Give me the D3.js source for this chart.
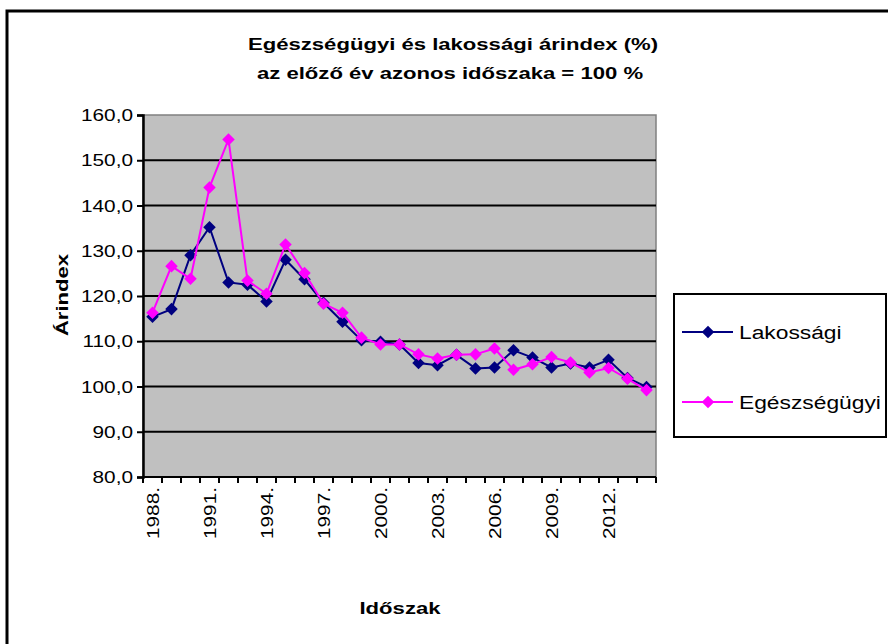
<!DOCTYPE html>
<html>
<head>
<meta charset="utf-8">
<script src="https://cdn.jsdelivr.net/npm/d3@7"></script>
<style>
  body { margin: 0; background: #fff; }
  text { font-family: "Liberation Sans", Arial, sans-serif; }
</style>
</head>
<body>
<div id="chart"></div>
<script>
var years = ["1988", "1989", "1990", "1991", "1992", "1993", "1994", "1995", "1996",
             "1997", "1998", "1999", "2000", "2001", "2002", "2003", "2004", "2005",
             "2006", "2007", "2008", "2009", "2010", "2011", "2012", "2013", "2014"];
var yearLabels = ["1988", "1991", "1994", "1997", "2000", "2003", "2006", "2009", "2012"];

var lakossagi = [115.4, 117.1, 129.0, 135.2, 123.0, 122.5, 118.8, 128.0, 123.7,
                 118.5, 114.3, 110.2, 109.9, 109.3, 105.2, 104.7, 107.0, 104.0,
                 104.2, 108.0, 106.4, 104.2, 105.1, 104.2, 105.9, 101.9, 99.9];
var egeszsegugyi = [116.3, 126.6, 123.8, 144.0, 154.6, 123.4, 120.5, 131.4, 125.1,
                    118.3, 116.3, 110.8, 109.3, 109.3, 107.1, 106.2, 107.0, 107.1,
                    108.4, 103.7, 104.9, 106.5, 105.3, 103.1, 104.1, 101.7, 99.2];
var yTicks = [80, 90, 100, 110, 120, 130, 140, 150, 160];

var seriesNames = ["Lakossági", "Egészségügyi"];
var seriesColors = ["#000080", "#ff00ff"];

(function() {
    var W = 888, H = 644;
    var plot = { left: 143, right: 656, top: 115, bottom: 477 };

    var svg = d3.select("#chart").append("svg")
        .attr("width", W)
        .attr("height", H);

    // outer chart frame, runs off the right / bottom edges
    svg.append("rect")
        .attr("x", 7).attr("y", 11)
        .attr("width", 950).attr("height", 700)
        .attr("fill", "none")
        .attr("stroke", "#000")
        .attr("stroke-width", 3);

    var x = d3.scaleBand().domain(years).range([plot.left, plot.right]).padding(0);
    var y = d3.scaleLinear().domain([80, 160]).range([plot.bottom, plot.top]);

    // glyphs in the original are rendered wide, so stretch text along its baseline
    function label(g, px, py, str, opts) {
        var sx = opts.sx || 1.3;
        return g.append("g")
            .attr("transform", "translate(" + px + "," + py + ")" + (opts.rotate ? " rotate(-90)" : "") + " scale(" + sx + ",1)")
            .append("text")
            .attr("text-anchor", opts.anchor || "middle")
            .attr("font-size", opts.size)
            .attr("font-weight", opts.bold ? "bold" : "normal")
            .attr("fill", "#000")
            .text(str);
    }

    // plot background
    svg.append("rect")
        .attr("x", plot.left).attr("y", plot.top)
        .attr("width", plot.right - plot.left)
        .attr("height", plot.bottom - plot.top)
        .attr("fill", "#c0c0c0")
        .attr("stroke", "#808080")
        .attr("stroke-width", 1.5);

    // gridlines
    svg.append("g")
        .selectAll("line")
        .data(yTicks.slice(1, -1))
        .enter().append("line")
        .attr("x1", plot.left).attr("x2", plot.right)
        .attr("y1", function(d) { return y(d); })
        .attr("y2", function(d) { return y(d); })
        .attr("stroke", "#000")
        .attr("stroke-width", 2);

    // y axis
    var yAxis = svg.append("g")
        .attr("transform", "translate(" + plot.left + ",0)")
        .call(d3.axisLeft(y).tickValues(yTicks).tickSize(6).tickFormat(""));
    yAxis.select(".domain").attr("stroke-width", 2.5);
    yAxis.selectAll(".tick line").attr("stroke-width", 2);

    var yLab = svg.append("g");
    yTicks.forEach(function(v) {
        label(yLab, 133, y(v) + 6, d3.format(".1f")(v).replace(".", ","), { anchor: "end", size: 16 });
    });

    // x axis: tick marks on band edges
    var edges = years.map(function(d) { return x(d); }).concat([plot.right]);
    var xAxis = svg.append("g");
    xAxis.append("line")
        .attr("x1", plot.left).attr("x2", plot.right)
        .attr("y1", plot.bottom).attr("y2", plot.bottom)
        .attr("stroke", "#000").attr("stroke-width", 2);
    xAxis.selectAll(".xt")
        .data(edges)
        .enter().append("line")
        .attr("class", "xt")
        .attr("x1", function(d) { return d; }).attr("x2", function(d) { return d; })
        .attr("y1", plot.bottom).attr("y2", plot.bottom + 6)
        .attr("stroke", "#000").attr("stroke-width", 2);

    yearLabels.forEach(function(yr) {
        label(xAxis, x(yr) + x.bandwidth() / 2 + 6, plot.bottom + 10, yr + ".", { anchor: "end", size: 16, rotate: true });
    });

    // series
    var data = [lakossagi, egeszsegugyi];
    var line = d3.line()
        .x(function(d, i) { return x(years[i]) + x.bandwidth() / 2; })
        .y(function(d) { return y(d); });
    var diamond = d3.symbol().type(d3.symbolDiamond2).size(100);

    data.forEach(function(vals, s) {
        var g = svg.append("g");
        g.append("path")
            .datum(vals)
            .attr("d", line)
            .attr("fill", "none")
            .attr("stroke", seriesColors[s])
            .attr("stroke-width", 2);
        g.selectAll("path.pt")
            .data(vals)
            .enter().append("path")
            .attr("class", "pt")
            .attr("d", diamond)
            .attr("transform", function(d, i) {
                return "translate(" + (x(years[i]) + x.bandwidth() / 2) + "," + y(d) + ")";
            })
            .attr("fill", seriesColors[s]);
    });

    // titles
    label(svg, 453, 50, "Egészségügyi és lakossági árindex (%)", { size: 17, bold: true });
    label(svg, 450, 79, "az előző év azonos időszaka = 100 %", { size: 17, bold: true });
    label(svg, 68, 295, "Árindex", { size: 17, bold: true, rotate: true });
    label(svg, 400, 614, "Időszak", { size: 17, bold: true });

    // legend
    var lg = svg.append("g");
    lg.append("rect")
        .attr("x", 674).attr("y", 294)
        .attr("width", 212).attr("height", 143)
        .attr("fill", "#fff")
        .attr("stroke", "#000")
        .attr("stroke-width", 2);
    var legendY = [332, 402];
    seriesNames.forEach(function(name, s) {
        lg.append("line")
            .attr("x1", 682).attr("x2", 733)
            .attr("y1", legendY[s]).attr("y2", legendY[s])
            .attr("stroke", seriesColors[s]).attr("stroke-width", 2);
        lg.append("path")
            .attr("d", diamond)
            .attr("transform", "translate(708," + legendY[s] + ")")
            .attr("fill", seriesColors[s]);
        label(lg, 739, legendY[s] + 7, name, { anchor: "start", size: 19, sx: 1.2 });
    });
})();
</script>
</body>
</html>
